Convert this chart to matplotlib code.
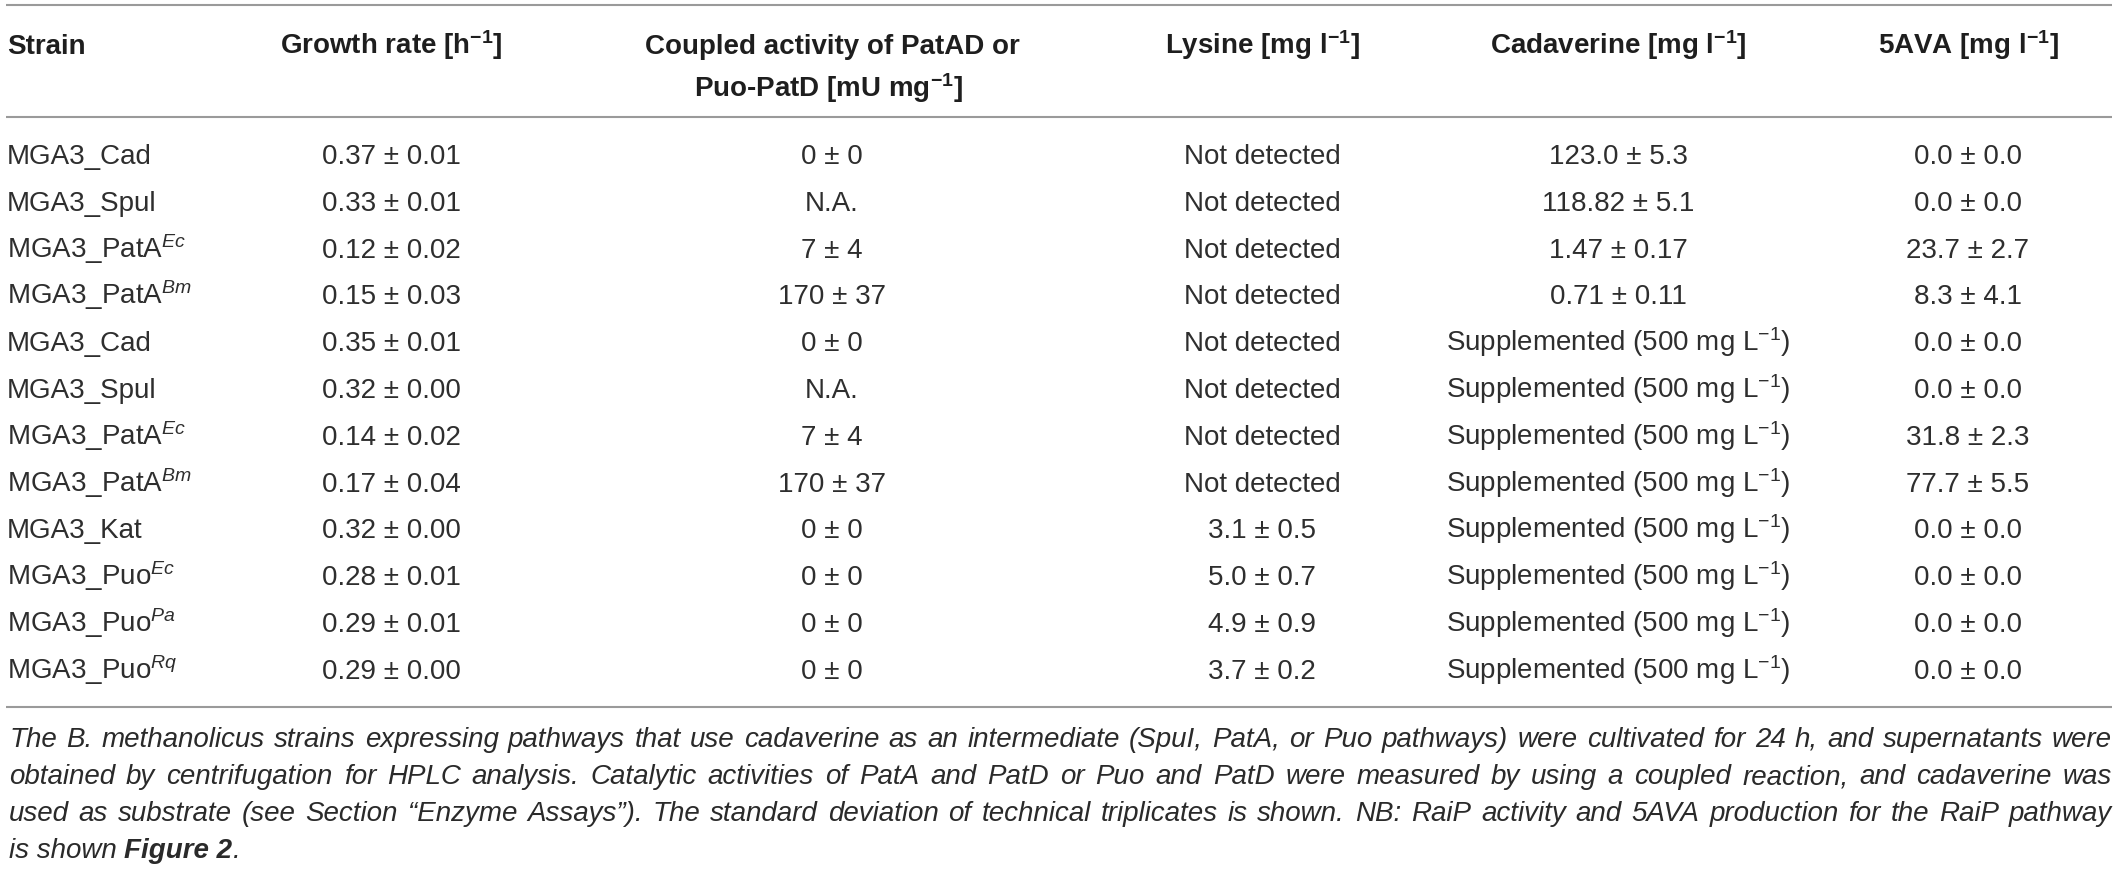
import matplotlib
matplotlib.use("Agg")
import matplotlib.pyplot as plt

plt.rcParams['font.family'] = ['Liberation Sans', 'DejaVu Sans']
plt.rcParams['mathtext.fontset'] = 'custom'
plt.rcParams['mathtext.rm'] = 'Liberation Sans'
plt.rcParams['mathtext.it'] = 'Liberation Sans:italic'
plt.rcParams['mathtext.bf'] = 'Liberation Sans:bold'
plt.rcParams['mathtext.sf'] = 'Liberation Sans'

# ---------------- data ----------------
headers = ["Strain", r"Growth rate [h$^{\mathbf{-1}}$]",
           "Coupled activity of PatAD or", r"Puo-PatD [mU mg$^{\mathbf{-1}}$]",
           r"Lysine [mg l$^{\mathbf{-1}}$]", r"Cadaverine [mg l$^{\mathbf{-1}}$]",
           r"5AVA [mg l$^{\mathbf{-1}}$]"]

strains = ["MGA3_Cad", "MGA3_Spul", r"MGA3_PatA$^{\mathit{Ec}}$", r"MGA3_PatA$^{\mathit{Bm}}$",
           "MGA3_Cad", "MGA3_Spul", r"MGA3_PatA$^{\mathit{Ec}}$", r"MGA3_PatA$^{\mathit{Bm}}$",
           "MGA3_Kat", r"MGA3_Puo$^{\mathit{Ec}}$", r"MGA3_Puo$^{\mathit{Pa}}$", r"MGA3_Puo$^{\mathit{Rq}}$"]
growth_rate = ["0.37 ± 0.01", "0.33 ± 0.01", "0.12 ± 0.02", "0.15 ± 0.03",
               "0.35 ± 0.01", "0.32 ± 0.00", "0.14 ± 0.02", "0.17 ± 0.04",
               "0.32 ± 0.00", "0.28 ± 0.01", "0.29 ± 0.01", "0.29 ± 0.00"]
activity = ["0 ± 0", "N.A.", "7 ± 4", "170 ± 37",
            "0 ± 0", "N.A.", "7 ± 4", "170 ± 37",
            "0 ± 0", "0 ± 0", "0 ± 0", "0 ± 0"]
lysine = ["Not detected"] * 8 + ["3.1 ± 0.5", "5.0 ± 0.7", "4.9 ± 0.9", "3.7 ± 0.2"]
SUPP = r"Supplemented (500 mg L$^{-1}$)"
cadaverine = ["123.0 ± 5.3", "118.82 ± 5.1", "1.47 ± 0.17", "0.71 ± 0.11"] + [SUPP] * 8
ava = ["0.0 ± 0.0", "0.0 ± 0.0", "23.7 ± 2.7", "8.3 ± 4.1",
       "0.0 ± 0.0", "0.0 ± 0.0", "31.8 ± 2.3", "77.7 ± 5.5",
       "0.0 ± 0.0", "0.0 ± 0.0", "0.0 ± 0.0", "0.0 ± 0.0"]

caption_lines = [
    "The B. methanolicus strains expressing pathways that use cadaverine as an intermediate (SpuI, PatA, or Puo pathways) were cultivated for 24 h, and supernatants were",
    "obtained by centrifugation for HPLC analysis. Catalytic activities of PatA and PatD or Puo and PatD were measured by using a coupled reaction, and cadaverine was",
    "used as substrate (see Section \u201cEnzyme Assays\u201d). The standard deviation of technical triplicates is shown. NB: RaiP activity and 5AVA production for the RaiP pathway",
]
caption_last = [("is shown ", "normal"), ("Figure 2", "bold"), (".", "normal")]

# ---------------- layout ----------------
W, H = 2119, 869
fig = plt.figure(figsize=(W / 100, H / 100), dpi=100)
ax = fig.add_axes([0, 0, 1, 1])
ax.set_xlim(0, W)
ax.set_ylim(H, 0)
ax.axis('off')

FS = 20
HEAD_C = '#1e1e1e'
BODY_C = '#2e2e2e'
LINE_C = '#9a9a9a'

x_left, x_right = 6, 2112
for yl in (5, 117, 707):
    ax.plot([x_left, x_right], [yl, yl], color=LINE_C, lw=1.5, solid_capstyle='butt')

col_x = [7, 391, 832, 1262, 1618, 1968]

# headers
hy1, hy2 = 54, 97
ax.text(col_x[0], hy1, headers[0], ha='left', va='baseline', fontsize=FS,
        fontweight='bold', color=HEAD_C)
ax.text(col_x[1], hy1, headers[1], ha='center', va='baseline', fontsize=FS,
        fontweight='bold', color=HEAD_C)
ax.text(col_x[2], hy1, headers[2], ha='center', va='baseline', fontsize=FS,
        fontweight='bold', color=HEAD_C)
ax.text(col_x[2] - 4, hy2, headers[3], ha='center', va='baseline', fontsize=FS,
        fontweight='bold', color=HEAD_C)
for j, h in zip(range(3, 6), headers[4:]):
    ax.text(col_x[j], hy1, h, ha='center', va='baseline', fontsize=FS,
            fontweight='bold', color=HEAD_C)

# body rows
row0, dy = 164, 46.8
columns = [growth_rate, activity, lysine, cadaverine, ava]
for i, s in enumerate(strains):
    y = row0 + i * dy
    ax.text(col_x[0], y, s, ha='left', va='baseline', fontsize=FS, color=BODY_C)
    for j, col in enumerate(columns, start=1):
        ax.text(col_x[j], y, col[i], ha='center', va='baseline', fontsize=FS,
                color=BODY_C)

# caption (justified)
CAP_C = '#2a2a2a'
cap_y0, cap_dy = 747, 37
cx0, cx1 = 9, 2112
fig.canvas.draw()
rend = fig.canvas.get_renderer()
for k, line in enumerate(caption_lines):
    y = cap_y0 + k * cap_dy
    words = line.split(' ')
    objs = [ax.text(0, y, w, ha='left', va='baseline', fontsize=FS,
                    fontstyle='italic', color=CAP_C) for w in words]
    widths = [o.get_window_extent(rend).width for o in objs]
    gap = (cx1 - cx0 - sum(widths)) / (len(words) - 1)
    x = cx0
    for o, w in zip(objs, widths):
        o.set_x(x)
        x += w + gap

y = cap_y0 + 3 * cap_dy
x = cx0
for txt, wt in caption_last:
    o = ax.text(x, y, txt, ha='left', va='baseline', fontsize=FS,
                fontstyle='italic', fontweight=wt, color=CAP_C)
    x += o.get_window_extent(rend).width

fig.savefig('out.png', dpi=100)
